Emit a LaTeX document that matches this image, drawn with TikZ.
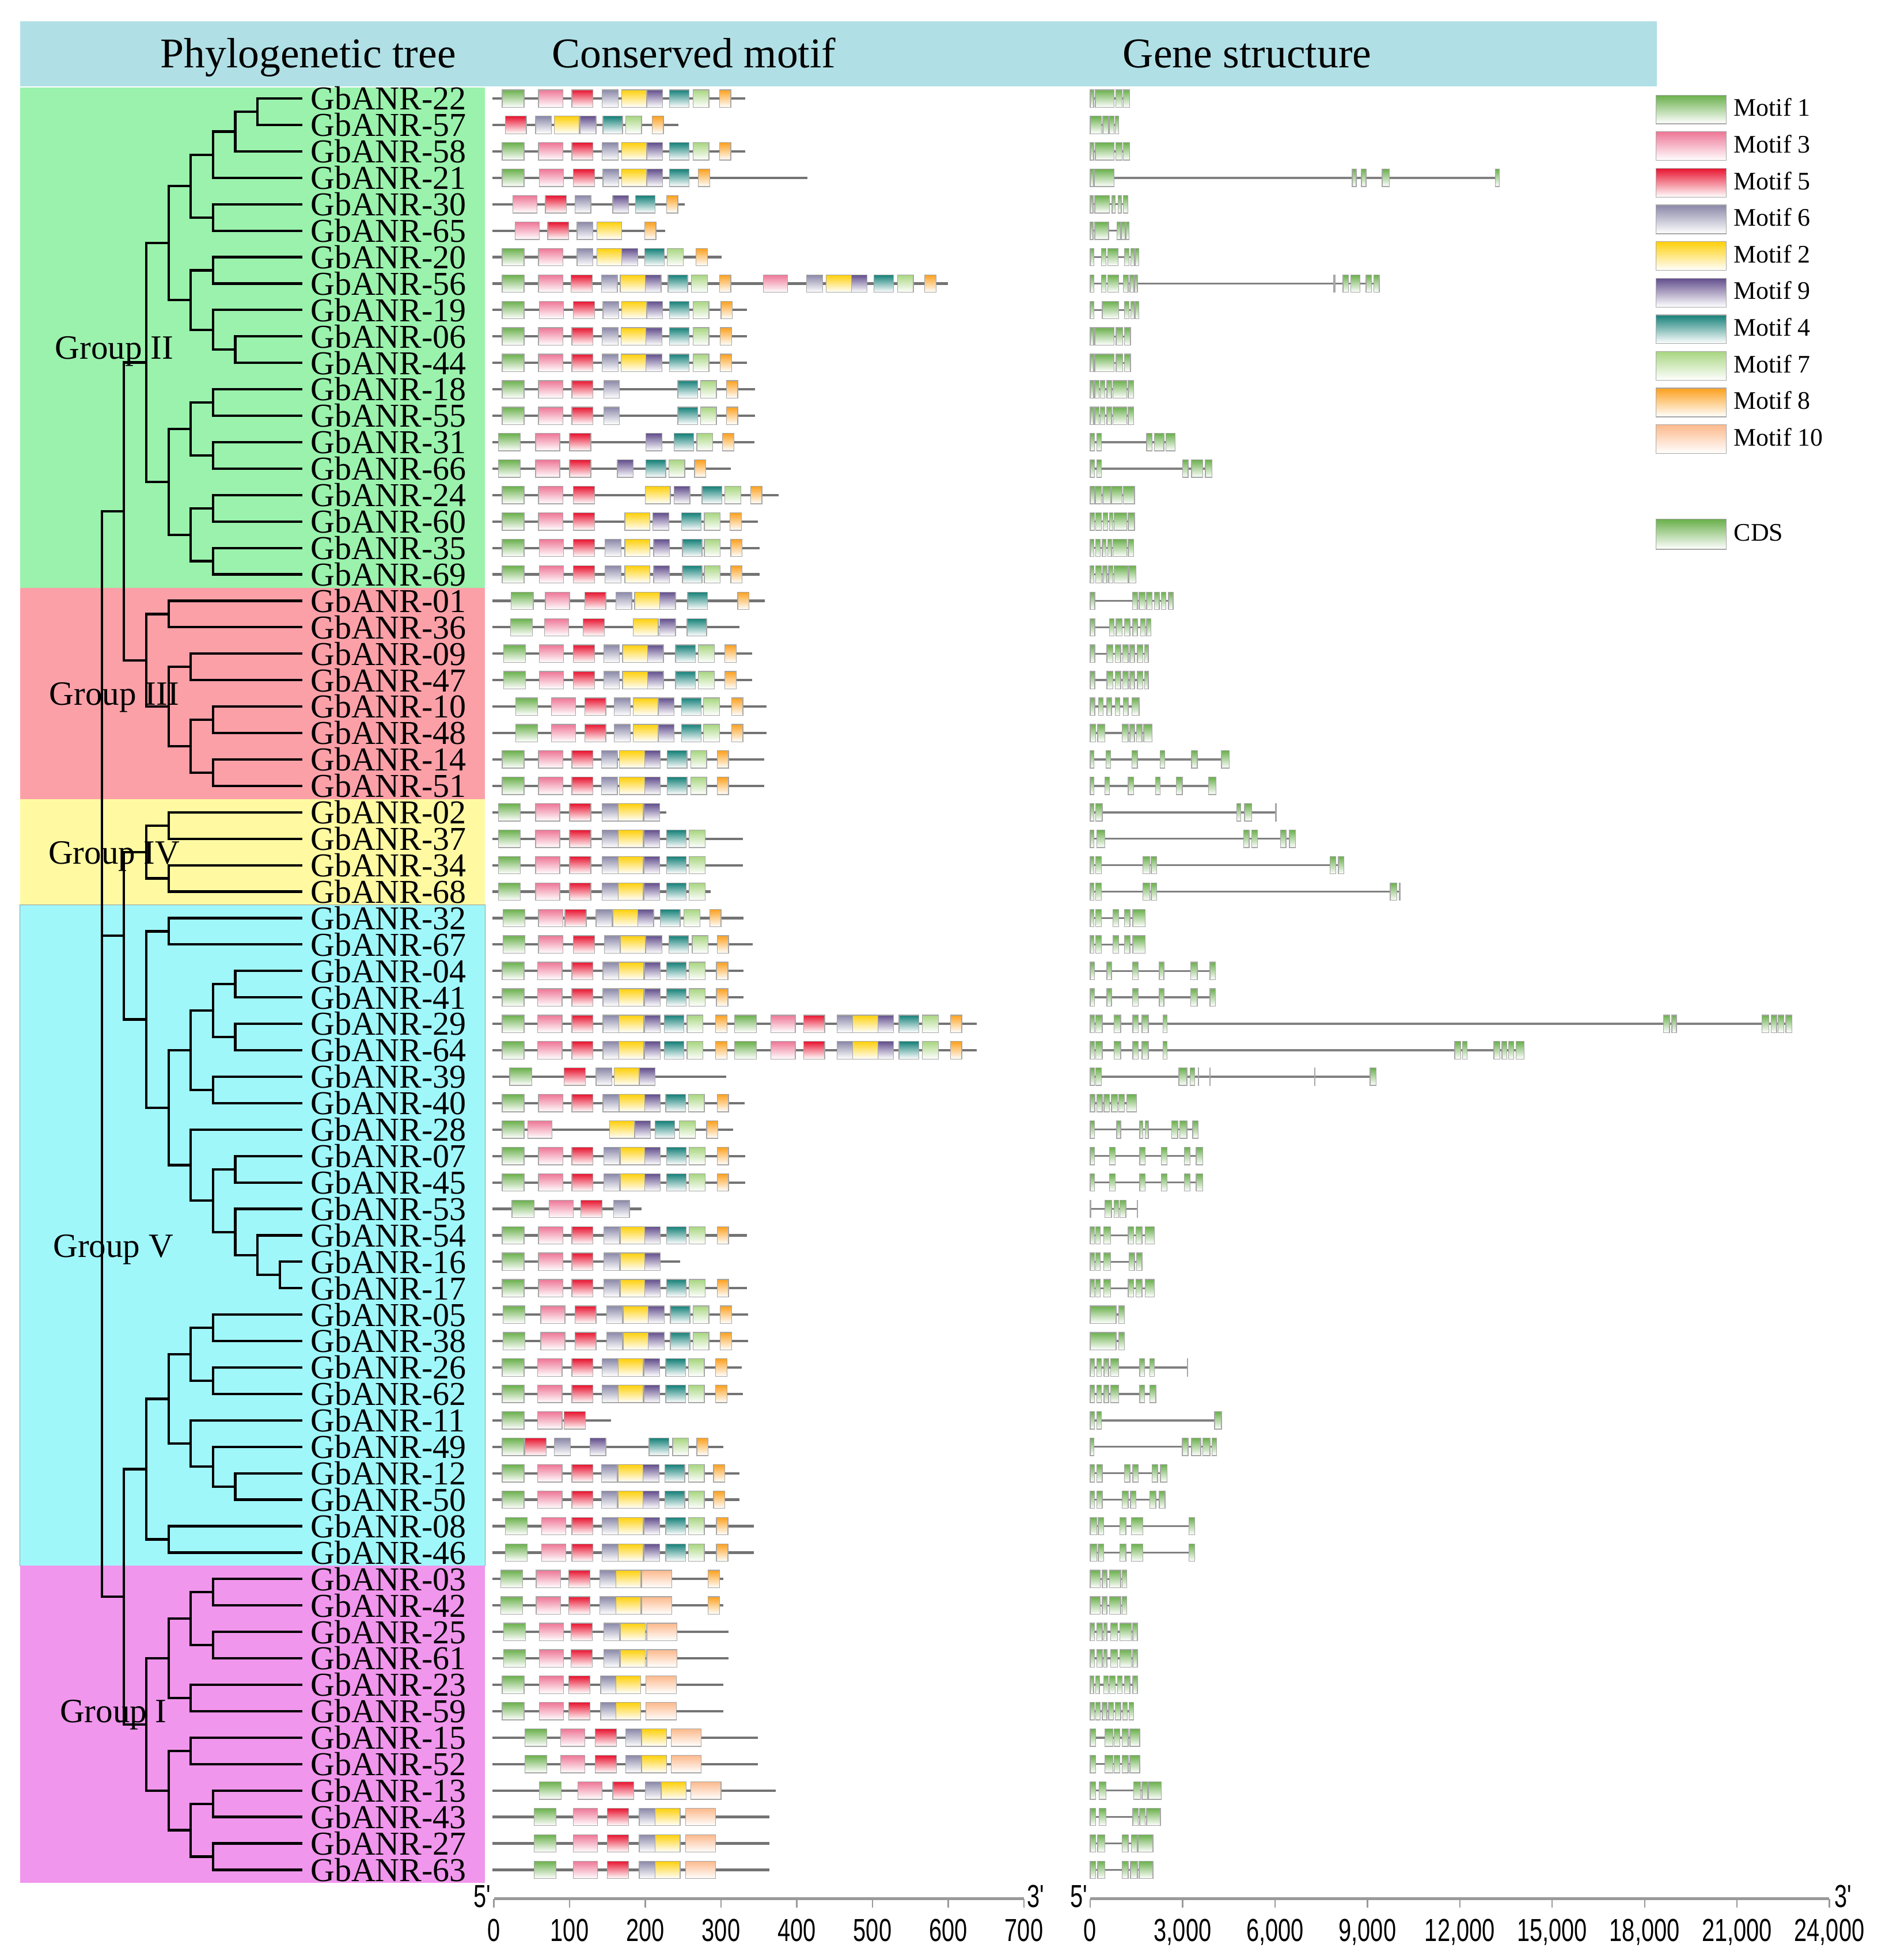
\documentclass[tikz,border=0pt]{standalone}
\usepackage{fontspec}
\setmainfont{Liberation Serif}
\newfontfamily\axisfont{Liberation Sans}
\usetikzlibrary{calc}

\definecolor{hdrblue}{RGB}{176,224,230}
\definecolor{grpI}{RGB}{240,150,236}
\definecolor{grpII}{RGB}{154,242,172}
\definecolor{grpIII}{RGB}{252,160,168}
\definecolor{grpIV}{RGB}{255,250,162}
\definecolor{grpV}{RGB}{160,247,250}
\definecolor{mc1}{RGB}{106,176,76}
\definecolor{mc2}{RGB}{255,208,10}
\definecolor{mc3}{RGB}{238,118,150}
\definecolor{mc4}{RGB}{20,128,120}
\definecolor{mc5}{RGB}{232,20,48}
\definecolor{mc6}{RGB}{138,136,168}
\definecolor{mc7}{RGB}{168,214,128}
\definecolor{mc8}{RGB}{252,160,30}
\definecolor{mc9}{RGB}{98,78,140}
\definecolor{mc10}{RGB}{252,185,140}

% motif lengths in aa, index = motif number
\def\mwidth{{0,29,33,32,26,28,21,21,15,21,40}}
% y of a row
\def\ry#1{(78.8+21.15*(#1))}
\newcommand\narrow[1]{\scalebox{0.72}[1]{#1}}

\tikzset{
  branch/.style={black, line width=1.1pt},
  gene/.style={font=\fontsize{15.2}{16}\selectfont, inner sep=0pt, anchor=west},
  head/.style={font=\fontsize{19.3}{20}\selectfont, inner sep=0pt, anchor=base},
  grp/.style={font=\fontsize{15.5}{16}\selectfont, inner sep=0pt, anchor=base west},
  legtxt/.style={font=\fontsize{11.5}{12}\selectfont, inner sep=0pt, anchor=west},
  prot/.style={draw=gray!90!black, line width=1.1pt},
  intron/.style={draw=gray, line width=0.9pt},
  mbox/.style={draw=gray!70, line width=0.35pt, bottom color=white},
  motif/.style={mbox, top color=mc#1},
  cds/.style={mbox, top color=mc1},
  axisln/.style={draw=gray!80, line width=1.3pt},
  tickln/.style={draw=gray!80, line width=0.6pt},
  ticklbl/.style={font=\axisfont\fontsize{14.5}{15}\selectfont, inner sep=0pt, anchor=base},
}

% parent name, depth, child 1, child 2
\newcommand\clade[4]{%
  \path let \p1=(#3), \p2=(#4), \p3=({81.4+17.8*#2},0) in
    coordinate (#1) at (\x3,{(\y1+\y2)/2});
  \draw[branch] (#3) -- (#3 -| #1) -- (#4 -| #1) -- (#4);
}

% row, length (aa), motif/start list
\newcommand\motifs[3]{%
  \draw[prot] (394,{\ry{#1}}) -- ({395+0.6057*#2},{\ry{#1}});
  \foreach \k/\s in {#3}{%
    \pgfmathsetmacro\mw{\mwidth[\k]}%
    \draw[motif=\k] ({395+0.6057*\s},{\ry{#1}-7}) rectangle ++({0.6057*\mw},14);
  }%
}

% row, length (100 bp), exon start/end list
\newcommand\exons[3]{%
  \draw[intron] (872,{\ry{#1}}) -- ({872+2.463*#2},{\ry{#1}});
  \foreach \a/\b in {#3}
    \draw[cds] ({872+2.463*\a},{\ry{#1}-7}) rectangle ({872+2.463*\b},{\ry{#1}+7});
}

\begin{document}
\begin{tikzpicture}[x=0.2mm,y=-0.2mm]
\useasboundingbox (0,0) rectangle (1514,1568);

% header and groups
\fill[hdrblue] (16,17) rectangle (1325,69);
\node[head] (hTree) at (246.5,54) {Phylogenetic tree};
\node[head] (hMotif) at (555,54) {Conserved motif};
\node[head] (hGene) at (997.5,54) {Gene structure};

\fill[grpII] (16,70) rectangle (388,470.1);
\fill[grpIII] (16,470.1) rectangle (388,639.3);
\fill[grpIV] (16,639.3) rectangle (388,723.9);
\filldraw[fill=grpV, draw=gray!80] (16,723.9) rectangle (388,1252.6);
\fill[grpI] (16,1252.6) rectangle (388,1506.4);

\node[grp] (lblII) at (43.8,287) {Group II};
\node[grp] (lblIII) at (39.2,564) {Group III};
\node[grp] (lblIV) at (38.4,691) {Group IV};
\node[grp] (lblV) at (42.2,1006) {Group V};
\node[grp] (lblI) at (47.6,1378) {Group I};

% leaves
\foreach \g [count=\i from 0] in {22,57,58,21,30,65,20,56,19,06,44,18,55,31,66,24,60,35,69,01,36,09,47,10,48,14,51,02,37,34,68,32,67,04,41,29,64,39,40,28,07,45,53,54,16,17,05,38,26,62,11,49,12,50,08,46,03,42,25,61,23,59,15,52,13,43,27,63}{
  \coordinate (l\g) at (242,{\ry{\i}});
  \node[gene] (n\g) at (248,{\ry{\i}}) {GbANR-\g};
}

% tree
\clade{a1}{7}{l22}{l57}
\clade{a2}{6}{a1}{l58}
\clade{a3}{5}{a2}{l21}
\clade{a4}{5}{l30}{l65}
\clade{a5}{4}{a3}{a4}
\clade{a6}{5}{l20}{l56}
\clade{a7}{6}{l06}{l44}
\clade{a8}{5}{l19}{a7}
\clade{a9}{4}{a6}{a8}
\clade{a10}{3}{a5}{a9}
\clade{a11}{5}{l18}{l55}
\clade{a12}{5}{l31}{l66}
\clade{a13}{4}{a11}{a12}
\clade{a14}{5}{l24}{l60}
\clade{a15}{5}{l35}{l69}
\clade{a16}{4}{a14}{a15}
\clade{a17}{3}{a13}{a16}
\clade{g2}{2}{a10}{a17}

\clade{b1}{3}{l01}{l36}
\clade{b2}{4}{l09}{l47}
\clade{b3}{5}{l10}{l48}
\clade{b4}{5}{l14}{l51}
\clade{b5}{4}{b3}{b4}
\clade{b6}{3}{b2}{b5}
\clade{g3}{2}{b1}{b6}
\clade{c23}{1}{g2}{g3}

\clade{d1}{3}{l02}{l37}
\clade{d2}{3}{l34}{l68}
\clade{g4}{2}{d1}{d2}

\clade{e1}{3}{l32}{l67}
\clade{e2}{6}{l04}{l41}
\clade{e3}{6}{l29}{l64}
\clade{e4}{5}{e2}{e3}
\clade{e5}{5}{l39}{l40}
\clade{e6}{4}{e4}{e5}
\clade{e7}{6}{l07}{l45}
\clade{e8}{8}{l16}{l17}
\clade{e9}{7}{l54}{e8}
\clade{e10}{6}{l53}{e9}
\clade{e11}{5}{e7}{e10}
\clade{e12}{4}{l28}{e11}
\clade{e13}{3}{e6}{e12}
\clade{e14}{2}{e1}{e13}
\clade{c45}{1}{g4}{e14}

\clade{f1}{5}{l05}{l38}
\clade{f2}{5}{l26}{l62}
\clade{f3}{4}{f1}{f2}
\clade{f4}{6}{l12}{l50}
\clade{f5}{5}{l49}{f4}
\clade{f6}{4}{l11}{f5}
\clade{f7}{3}{f3}{f6}
\clade{f8}{3}{l08}{l46}
\clade{f9}{2}{f7}{f8}

\clade{h1}{5}{l03}{l42}
\clade{h2}{5}{l25}{l61}
\clade{h3}{4}{h1}{h2}
\clade{h4}{4}{l23}{l59}
\clade{h5}{3}{h3}{h4}
\clade{h6}{4}{l15}{l52}
\clade{h7}{5}{l13}{l43}
\clade{h8}{5}{l27}{l63}
\clade{h9}{4}{h7}{h8}
\clade{h10}{3}{h6}{h9}
\clade{g1}{2}{h5}{h10}
\clade{c51}{1}{f9}{g1}

\coordinate (root) at (81.4,0);
\draw[branch] (c23) -- (c23 -| root) -- (c51 -| root) -- (c51);
\draw[branch] (c45) -- (c45 -| root);

% conserved motifs
\motifs{0}{332}{1/11,3/59,5/103,6/143,2/169,9/202,4/232,7/263,8/298}
\motifs{1}{244}{5/15,6/55,2/80,9/114,4/144,7/174,8/209}
\motifs{2}{332}{1/11,3/59,5/103,6/143,2/169,9/202,4/232,7/263,8/298}
\motifs{3}{414}{1/11,3/60,5/105,6/144,2/169,9/202,4/232,8/270}
\motifs{4}{252}{3/25,5/68,6/107,9/157,4/187,8/228}
\motifs{5}{226}{3/28,5/71,6/110,2/136,8/199}
\motifs{6}{301}{1/11,3/59,6/110,2/136,9/169,4/199,7/229,8/267}
\motifs{7}{600}{1/11,3/59,5/102,6/142,2/167,9/200,4/230,7/261,8/298,3/356,6/413,2/439,9/472,4/502,7/533,8/569}
\motifs{8}{334}{1/11,3/60,5/105,6/144,2/169,9/202,4/232,7/263,8/300}
\motifs{9}{334}{1/11,3/59,5/103,6/143,2/168,9/201,4/232,7/263,8/299}
\motifs{10}{334}{1/11,3/59,5/103,6/143,2/168,9/201,4/232,7/263,8/299}
\motifs{11}{345}{1/11,3/59,5/103,6/145,4/243,7/273,8/307}
\motifs{12}{345}{1/11,3/59,5/103,6/145,4/243,7/273,8/307}
\motifs{13}{344}{1/6,3/55,5/100,9/201,4/238,7/268,8/302}
\motifs{14}{313}{1/6,3/55,5/100,9/163,4/201,7/231,8/265}
\motifs{15}{376}{1/11,3/59,5/105,2/200,9/238,4/275,7/305,8/339}
\motifs{16}{349}{1/11,3/59,5/105,2/173,9/210,4/248,7/278,8/312}
\motifs{17}{351}{1/11,3/60,5/105,6/147,2/173,9/211,4/249,7/278,8/313}
\motifs{18}{351}{1/11,3/60,5/105,6/147,2/173,9/211,4/249,7/278,8/313}
\motifs{19}{358}{1/23,3/68,5/120,6/161,2/186,9/219,4/256,8/322}
\motifs{20}{324}{1/22,3/67,5/118,2/184,9/219,4/255}
\motifs{21}{341}{1/13,3/60,5/105,6/145,2/170,9/203,4/240,7/270,8/305}
\motifs{22}{341}{1/13,3/60,5/105,6/145,2/170,9/203,4/240,7/270,8/305}
\motifs{23}{360}{1/29,3/76,5/120,6/159,2/184,9/217,4/248,7/277,8/314}
\motifs{24}{360}{1/29,3/76,5/120,6/159,2/184,9/217,4/248,7/277,8/314}
\motifs{25}{357}{1/11,3/59,5/103,6/142,2/166,9/199,4/229,7/260,8/295}
\motifs{26}{357}{1/11,3/59,5/103,6/142,2/166,9/199,4/229,7/260,8/295}
\motifs{27}{228}{1/6,3/55,5/100,6/143,2/164,9/198}
\motifs{28}{329}{1/6,3/55,5/100,6/143,2/164,9/198,4/228,7/258}
\motifs{29}{329}{1/6,3/55,5/100,6/143,2/164,9/198,4/228,7/258}
\motifs{30}{286}{1/6,3/55,5/100,6/143,2/164,9/198,4/228,7/258}
\motifs{31}{330}{1/12,3/59,5/94,6/135,2/157,9/190,4/220,7/251,8/285}
\motifs{32}{342}{1/12,3/59,5/105,6/146,2/167,9/201,4/231,7/262,8/295}
\motifs{33}{330}{1/11,3/58,5/103,6/144,2/165,9/199,4/228,7/258,8/294}
\motifs{34}{330}{1/11,3/58,5/103,6/144,2/165,9/199,4/228,7/258,8/294}
\motifs{35}{638}{1/11,3/58,5/103,6/144,2/165,9/199,4/225,7/255,8/293,1/318,3/366,5/409,6/453,2/474,9/507,4/535,7/566,8/603}
\motifs{36}{638}{1/11,3/58,5/103,6/144,2/165,9/199,4/225,7/255,8/293,1/318,3/366,5/409,6/453,2/474,9/507,4/535,7/566,8/603}
\motifs{37}{307}{1/21,5/93,6/135,2/159,9/192}
\motifs{38}{331}{1/11,3/59,5/103,6/144,2/166,9/199,4/227,7/257,8/295}
\motifs{39}{316}{1/11,3/45,2/153,9/186,4/213,7/245,8/281}
\motifs{40}{332}{1/11,3/59,5/103,6/145,2/167,9/199,4/228,7/258,8/295}
\motifs{41}{332}{1/11,3/59,5/103,6/145,2/167,9/199,4/228,7/258,8/295}
\motifs{42}{195}{1/24,3/73,5/115,6/158}
\motifs{43}{334}{1/11,3/59,5/103,6/145,2/167,9/199,4/228,7/258,8/295}
\motifs{44}{246}{1/11,3/59,5/103,6/145,2/167,9/199}
\motifs{45}{334}{1/11,3/59,5/103,6/145,2/167,9/199,4/228,7/258,8/295}
\motifs{46}{336}{1/12,3/62,5/107,6/149,2/171,9/204,4/233,7/263,8/299}
\motifs{47}{336}{1/12,3/62,5/107,6/149,2/171,9/204,4/233,7/263,8/299}
\motifs{48}{327}{1/11,3/58,5/103,6/143,2/164,9/198,4/227,7/257,8/293}
\motifs{49}{329}{1/11,3/58,5/103,6/143,2/164,9/198,4/227,7/257,8/293}
\motifs{50}{155}{1/11,3/58,5/93}
\motifs{51}{303}{1/11,5/41,6/80,9/127,4/205,7/236,8/268}
\motifs{52}{324}{1/11,3/58,5/103,6/142,2/164,9/197,4/226,7/257,8/290}
\motifs{53}{324}{1/11,3/58,5/103,6/142,2/164,9/197,4/226,7/257,8/290}
\motifs{54}{343}{1/15,3/63,5/103,6/143,2/164,9/198,4/227,7/257,8/294}
\motifs{55}{343}{1/15,3/63,5/103,6/143,2/164,9/198,4/227,7/257,8/294}
\motifs{56}{303}{1/9,3/56,5/99,6/140,2/161,10/195,8/283}
\motifs{57}{303}{1/9,3/56,5/99,6/140,2/161,10/195,8/283}
\motifs{58}{310}{1/13,3/60,5/102,6/145,2/167,10/202}
\motifs{59}{310}{1/13,3/60,5/102,6/145,2/167,10/202}
\motifs{60}{303}{1/11,3/60,5/99,6/141,2/161,10/201}
\motifs{61}{303}{1/11,3/60,5/99,6/141,2/161,10/201}
\motifs{62}{349}{1/41,3/88,5/134,6/174,2/195,10/234}
\motifs{63}{349}{1/41,3/88,5/134,6/174,2/195,10/234}
\motifs{64}{372}{1/60,3/111,5/157,6/200,2/221,10/260}
\motifs{65}{364}{1/53,3/105,5/150,6/192,2/213,10/253}
\motifs{66}{364}{1/53,3/105,5/150,6/192,2/213,10/253}
\motifs{67}{364}{1/53,3/105,5/150,6/192,2/213,10/253}

% gene structure
\exons{0}{12.8}{0/1.1,1.7/7.7,8.3/10.4,10.8/12.8}
\exons{1}{9.3}{0/3.6,4.1/6.0,6.3/7.8,8.1/9.3}
\exons{2}{12.8}{0/1.1,1.7/7.7,8.3/10.4,10.8/12.8}
\exons{3}{132.9}{0/1.1,1.4/7.7,85.1/86.4,88.1/89.6,94.8/97.1,131.6/132.9}
\exons{4}{12.2}{0/0.9,1.5/6.3,7.1/8.1,9.0/10.1,10.7/12.2}
\exons{5}{12.6}{0/0.9,1.5/6.0,8.7/9.9,10.2/11.3,11.6/12.6}
\exons{6}{15.8}{0/1.2,3.6/5.1,5.7/9.0,11.1/12.6,13.2/14.4,14.7/15.8}
\exons{7}{93.9}{0/1.2,3.6/5.1,5.7/9.3,10.8/12.3,12.9/14.1,14.4/15.3,79.1/79.5,82.1/83.9,84.6/87.6,89.6/91.4,92.1/93.9}
\exons{8}{15.8}{0/1.2,3.9/9.3,11.1/12.6,13.2/14.4,14.7/15.8}
\exons{9}{13.1}{0/1.1,1.5/7.8,8.4/10.5,11.1/13.1}
\exons{10}{13.1}{0/1.1,1.5/7.8,8.4/10.5,11.1/13.1}
\exons{11}{14.1}{0/1.1,1.5/2.9,3.3/4.8,5.4/6.9,7.4/11.9,12.3/14.1}
\exons{12}{14.1}{0/1.1,1.5/2.9,3.3/4.8,5.4/6.9,7.4/11.9,12.3/14.1}
\exons{13}{27.6}{0/1.4,2.1/3.6,18.3/20.1,20.9/23.9,24.6/27.6}
\exons{14}{39.6}{0/1.4,2.1/3.6,30.0/31.8,32.9/36.6,37.4/39.6}
\exons{15}{14.4}{0/1.4,1.7/3.6,4.1/6.6,6.9/10.4,10.8/14.4}
\exons{16}{14.4}{0/1.4,1.8/3.6,4.2/5.7,6.2/7.4,7.8/11.9,12.3/14.4}
\exons{17}{14.1}{0/1.2,1.8/3.3,3.9/5.1,5.7/6.9,7.4/11.9,12.3/14.1}
\exons{18}{14.9}{0/1.2,1.8/3.6,4.1/5.4,6.0/7.4,7.8/12.3,12.6/14.9}
\exons{19}{26.9}{0/1.5,13.7/15.3,15.9/17.9,18.3/20.1,20.9/22.4,23.1/24.6,25.4/26.9}
\exons{20}{19.7}{0/1.5,6.3/7.8,8.4/10.4,11.1/12.9,13.8/15.3,16.4/17.9,18.3/19.7}
\exons{21}{18.9}{0/1.5,5.4/7.4,8.1/9.9,10.5/12.3,12.9/14.4,15.3/17.1,17.6/18.9}
\exons{22}{18.9}{0/1.5,5.4/7.4,8.1/9.9,10.5/12.3,12.9/14.4,15.3/17.1,17.6/18.9}
\exons{23}{15.9}{0/1.5,2.7/4.2,5.4/6.9,8.1/9.6,10.8/12.3,13.5/15.9}
\exons{24}{20.1}{0/1.8,2.4/4.8,10.4/12.3,12.9/14.4,15.0/16.8,17.4/20.1}
\exons{25}{45.2}{0/1.2,5.1/6.6,13.5/15.3,22.7/24.2,32.9/34.8,42.6/45.2}
\exons{26}{40.8}{0/1.2,4.8/6.3,12.3/14.1,21.2/22.7,27.9/29.9,38.4/40.8}
\exons{27}{60.4}{0/1.2,1.8/3.9,47.6/48.9,50.1/52.4,60.1/60.4}
\exons{28}{66.6}{0/1.2,2.1/4.8,49.8/51.6,52.4/54.3,61.8/63.6,64.7/66.6}
\exons{29}{82.4}{0/1.2,1.8/3.6,17.1/19.4,19.8/21.6,77.9/79.8,80.6/82.4}
\exons{30}{100.7}{0/1.2,1.8/3.6,17.1/19.4,19.8/21.6,97.4/99.6,100.4/100.7}
\exons{31}{17.9}{0/1.2,1.8/3.6,7.4/9.3,11.1/12.9,13.8/17.9}
\exons{32}{17.9}{0/1.2,1.8/3.6,7.4/9.3,11.1/12.9,13.8/17.9}
\exons{33}{40.7}{0/1.4,5.4/6.9,13.7/15.6,22.4/23.9,32.6/34.8,38.9/40.7}
\exons{34}{40.7}{0/1.4,5.4/6.9,13.7/15.6,22.4/23.9,32.6/34.8,38.9/40.7}
\exons{35}{227.9}{0/1.4,1.8/3.9,7.8/9.9,13.8/15.6,16.8/18.9,23.6/24.9,186.2/188.1,188.9/190.4,218.1/220.4,221.1/222.9,223.4/225.3,225.9/227.9}
\exons{36}{140.9}{0/1.4,1.8/3.9,7.8/9.9,13.8/15.6,16.8/18.9,23.6/24.9,118.4/120.3,120.9/122.4,131.1/133.1,133.7/135.3,135.9/137.6,138.3/140.9}
\exons{37}{92.9}{0/1.4,1.8/3.6,28.8/31.4,32.4/33.9,35.1/35.3,38.8/39.0,72.8/73.0,90.9/92.9}
\exons{38}{15.0}{0/1.5,2.1/3.9,4.5/6.3,6.9/8.9,9.3/11.1,11.9/15.0}
\exons{39}{35.1}{0/1.4,8.6/9.9,16.1/17.1,17.9/18.9,26.4/28.4,29.1/31.4,33.3/35.1}
\exons{40}{36.6}{0/1.4,6.2/8.1,16.1/17.9,23.1/24.9,30.6/32.4,34.4/36.6}
\exons{41}{36.6}{0/1.4,6.2/8.1,16.1/17.9,23.1/24.9,30.6/32.4,34.4/36.6}
\exons{42}{15.4}{0/0.3,4.8/6.9,7.7/9.3,9.6/11.6,15.2/15.4}
\exons{43}{20.9}{0/1.4,1.8/3.3,4.4/6.6,12.3/14.1,14.9/16.8,17.9/20.9}
\exons{44}{16.8}{0/1.4,1.8/3.3,4.4/6.6,12.6/14.4,15.0/16.8}
\exons{45}{20.9}{0/1.4,1.8/3.3,4.4/6.6,12.3/14.1,14.9/16.8,17.9/20.9}
\exons{46}{11.1}{0/8.4,9.3/11.1}
\exons{47}{11.1}{0/8.4,9.3/11.1}
\exons{48}{31.7}{0/1.4,2.1/3.6,4.5/6.0,6.6/9.3,16.1/17.6,19.4/20.9,31.5/31.7}
\exons{49}{21.3}{0/1.4,2.1/3.6,4.5/6.0,6.6/9.3,16.1/17.6,19.4/21.3}
\exons{50}{42.6}{0/1.4,2.1/3.6,40.4/42.6}
\exons{51}{41.1}{0/1.2,29.9/31.8,32.9/35.9,36.6/38.9,39.6/41.1}
\exons{52}{24.9}{0/1.4,2.1/3.9,11.1/12.9,13.8/15.6,20.1/21.9,22.8/24.9}
\exons{53}{24.3}{0/1.4,2.1/3.9,10.4/12.3,13.1/14.9,19.4/21.3,22.4/24.3}
\exons{54}{33.9}{0/2.1,2.6/4.4,9.6/11.6,13.4/17.1,32.1/33.9}
\exons{55}{33.9}{0/2.1,2.6/4.4,9.6/11.6,13.4/17.1,32.1/33.9}
\exons{56}{11.9}{0/3.3,3.9/5.4,6.3/9.9,10.4/11.9}
\exons{57}{11.9}{0/3.3,3.9/5.4,6.3/9.9,10.4/11.9}
\exons{58}{15.3}{0/1.4,2.1/3.9,4.4/5.4,6.6/8.9,9.6/13.4,13.8/15.3}
\exons{59}{15.3}{0/1.4,2.1/3.9,4.4/5.4,6.6/8.9,9.6/13.4,13.8/15.3}
\exons{60}{15.3}{0/1.1,1.8/3.0,4.4/5.9,6.3/8.1,8.9/10.4,11.1/12.9,13.8/15.3}
\exons{61}{14.1}{0/1.4,1.8/3.3,3.9/5.4,6.0/7.5,8.1/9.9,10.5/12.0,12.6/14.1}
\exons{62}{16.1}{0/1.8,4.8/7.4,7.8/9.6,10.4/12.3,12.9/16.1}
\exons{63}{16.1}{0/1.8,4.8/7.4,7.8/9.6,10.4/12.3,12.9/16.1}
\exons{64}{23.1}{0/1.8,2.9/5.1,14.1/16.4,16.8/18.6,18.9/23.1}
\exons{65}{22.8}{0/1.8,2.9/5.1,13.8/15.6,16.1/17.9,18.3/22.8}
\exons{66}{20.4}{0/1.8,2.4/4.8,10.4/12.3,13.4/15.3,15.6/20.4}
\exons{67}{20.4}{0/1.8,2.4/4.8,10.4/12.3,13.1/15.3,15.9/20.4}

% legend
\foreach \k [count=\j from 0] in {1,3,5,6,2,9,4,7,8,10}{
  \draw[motif=\k] (1324.4,{76.1+29.3*\j}) rectangle ++(56.2,23);
  \node[legtxt] (key\k) at (1386.5,{86+29.3*\j}) {Motif \k};
}
\draw[cds] (1324.4,415.4) rectangle ++(56.2,24);
\node[legtxt] (keyCDS) at (1386.5,426) {CDS};

% scales
\coordinate (m0) at (395,1519);
\coordinate (m1) at (819,1519);
\coordinate (s0) at (872,1519);
\coordinate (s1) at (1463,1519);
\draw[axisln] (m0) -- (m1);
\draw[axisln] (s0) -- (s1);
\foreach \v [count=\i from 0] in {0,100,...,700}{
  \draw[tickln] ({395+0.6057*\v},1519) -- ++(0,7);
  \node[ticklbl] (mt\i) at ({395+0.6057*\v},1553) {\narrow{\v}};
}
\foreach \k in {0,...,8}{
  \draw[tickln] ({872+73.9*\k},1519) -- ++(0,7);
  \node[ticklbl] (gt\k) at ({872+73.9*\k},1553) {\narrow{\ifnum\k=0 0\else\number\numexpr3*\k\relax,000\fi}};
}
\node[ticklbl, anchor=base east] (m5) at ([xshift=-0.4mm,yshift=-1.4mm]m0) {\narrow{5'}};
\node[ticklbl, anchor=base west] (m3) at ([xshift=0.4mm,yshift=-1.4mm]m1) {\narrow{3'}};
\node[ticklbl, anchor=base east] (s5) at ([xshift=-0.4mm,yshift=-1.4mm]s0) {\narrow{5'}};
\node[ticklbl, anchor=base west] (s3) at ([xshift=0.8mm,yshift=-1.4mm]s1) {\narrow{3'}};
\end{tikzpicture}
\end{document}
